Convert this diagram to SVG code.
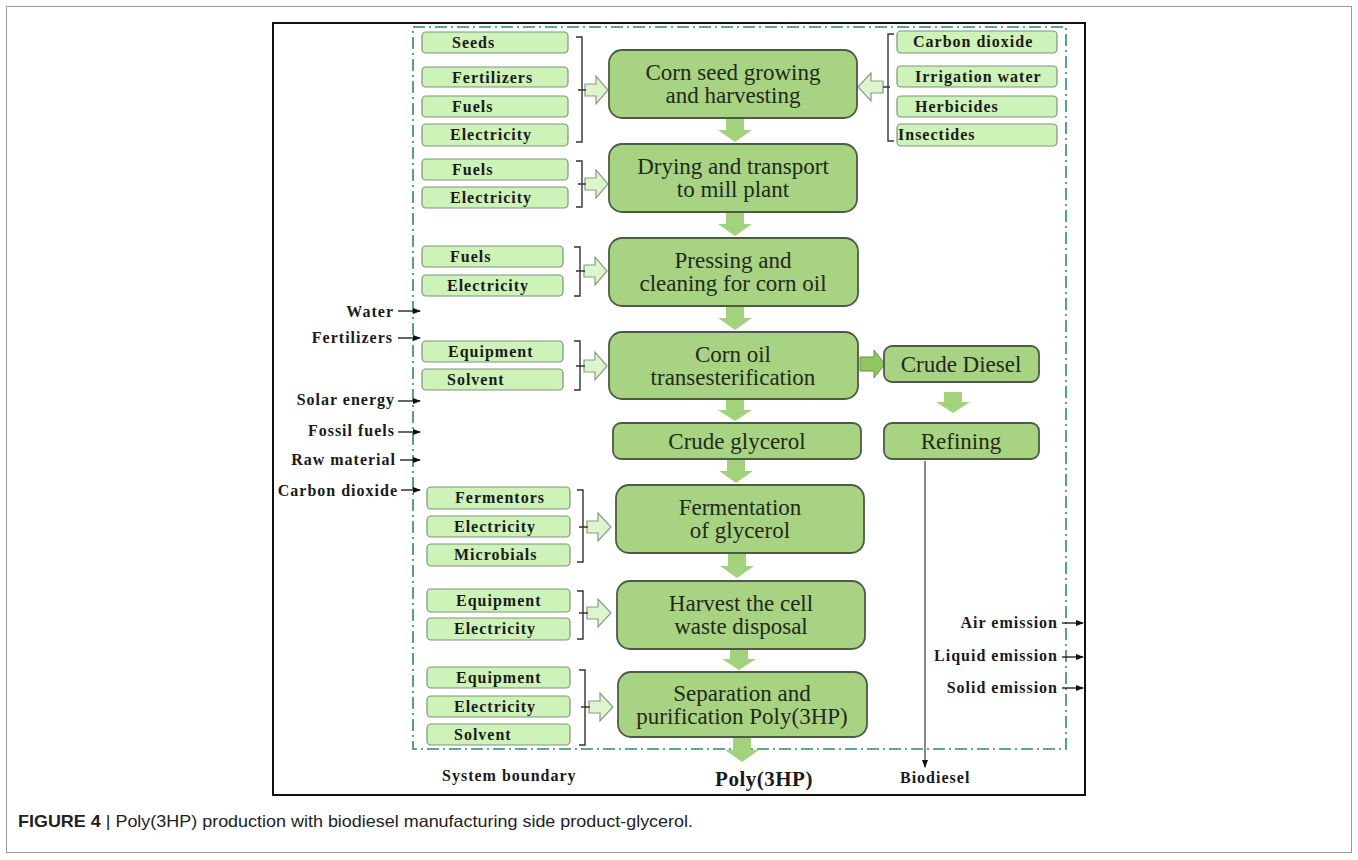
<svg xmlns="http://www.w3.org/2000/svg" width="1358" height="860" viewBox="0 0 1358 860">
<style>
.inbox{fill:#cdf3b8;stroke:#7d937b;stroke-width:1.2}
.main{fill:#a8d383;stroke:#4d5a44;stroke-width:1.8}
.lbl{font-family:"Liberation Serif",serif;font-weight:bold;font-size:16px;letter-spacing:1px;fill:#1a1a1a}
.mt{font-family:"Liberation Serif",serif;font-size:23px;fill:#1f2a1a;text-anchor:middle}
.hol{fill:#dcf5cc;stroke:#8a9a88;stroke-width:1.2}
.down{fill:#a3d27c}
.brk{fill:none;stroke:#333;stroke-width:1.4}
.blk{stroke:#111;stroke-width:1.3;fill:none}
.cap{font-family:"Liberation Sans",Arial,sans-serif;font-size:16.5px;fill:#222}
</style>
<defs>
<marker id="ah" markerWidth="8" markerHeight="8" refX="7" refY="4" orient="auto" markerUnits="userSpaceOnUse">
<path d="M0,1 L8,4 L0,7 Z" fill="#111"/>
</marker>
</defs>
<rect x="6.5" y="6.5" width="1345" height="846" fill="#fff" stroke="#9a9a9a" stroke-width="1"/>
<rect x="273" y="23" width="812" height="772" fill="#fff" stroke="#111" stroke-width="2"/>
<rect id="boundary" x="413" y="27" width="653" height="722" fill="none" stroke="#2e8a6c" stroke-width="1.6" stroke-dasharray="12 4 2 4"/>

<g id="connectors">
<path class="hol" d="M585,84 H596 V76 L608,90 L596,104 V96 H585 Z"/>
<path class="hol" d="M883,81 H871 V73 L858,87 L871,101 V93 H883 Z"/>
<path class="hol" d="M585,178 H596 V170 L608,184 L596,198 V190 H585 Z"/>
<path class="hol" d="M584,265 H595 V257 L607,271 L595,285 V277 H584 Z"/>
<path class="hol" d="M584,360 H595 V352 L607,366 L595,380 V372 H584 Z"/>
<path class="hol" d="M587,521 H598 V513 L611,527 L598,541 V533 H587 Z"/>
<path class="hol" d="M587,607 H598 V599 L611,613 L598,627 V619 H587 Z"/>
<path class="hol" d="M589,701 H600 V693 L613,707 L600,721 V713 H589 Z"/>
<path class="down" d="M726,118 H744 V130 H752 L735,142 L718,130 H726 Z"/>
<path class="down" d="M726,212 H744 V224 H752 L735,236 L718,224 H726 Z"/>
<path class="down" d="M726,306 H744 V318 H752 L735,330 L718,318 H726 Z"/>
<path class="down" d="M726,399 H744 V410 H752 L735,421 L718,410 H726 Z"/>
<path class="down" d="M727,459 H745 V471 H753 L736,483 L719,471 H727 Z"/>
<path class="down" d="M728,553 H746 V566 H754 L737,578 L720,566 H728 Z"/>
<path class="down" d="M730,649 H748 V659 H756 L739,670 L722,659 H730 Z"/>
<path class="down" d="M733,737 H751 V750 H759 L742,762 L725,750 H733 Z"/>
<path class="down" d="M944,392 H962 V402 H970 L953,413 L936,402 H944 Z"/>
<path d="M860,357 H874 V350 L885,364 L874,378 V371 H860 Z" fill="#8fc65e" stroke="#6b8f55" stroke-width="1"/>
<line x1="925" y1="461" x2="925" y2="767" stroke="#555" stroke-width="1.4" marker-end="url(#ah)"/>
<line class="blk" x1="398" y1="311" x2="420" y2="311" marker-end="url(#ah)"/>
<line class="blk" x1="398" y1="338" x2="420" y2="338" marker-end="url(#ah)"/>
<line class="blk" x1="398" y1="401" x2="420" y2="401" marker-end="url(#ah)"/>
<line class="blk" x1="398" y1="432" x2="420" y2="432" marker-end="url(#ah)"/>
<line class="blk" x1="400" y1="460" x2="420" y2="460" marker-end="url(#ah)"/>
<line class="blk" x1="401" y1="490" x2="420" y2="490" marker-end="url(#ah)"/>
<line class="blk" x1="1062" y1="623" x2="1083" y2="623" marker-end="url(#ah)"/>
<line class="blk" x1="1062" y1="657" x2="1083" y2="657" marker-end="url(#ah)"/>
<line class="blk" x1="1062" y1="688" x2="1083" y2="688" marker-end="url(#ah)"/>
<path class="brk" d="M576,37 H582 V142 H576 M578,90 H586"/>
<path class="brk" d="M894,34 H888 V141 H894 M883,87 H890"/>
<path class="brk" d="M576,161 H582 V207 H576 M578,184 H586"/>
<path class="brk" d="M574,247 H580 V296 H574 M576,271 H585"/>
<path class="brk" d="M574,341 H580 V390 H574 M576,366 H585"/>
<path class="brk" d="M577,490 H583 V562 H577 M579,527 H588"/>
<path class="brk" d="M577,591 H583 V639 H577 M579,613 H588"/>
<path class="brk" d="M579,670 H585 V745 H579 M581,707 H590"/>
</g>

<g id="in-seeds"><rect class="inbox" x="422" y="32" width="146" height="21" rx="4"/><text class="lbl" x="452" y="48">Seeds</text></g>
<g id="in-fert"><rect class="inbox" x="422" y="67" width="146" height="20" rx="4"/><text class="lbl" x="452" y="83">Fertilizers</text></g>
<g id="in-fuels1"><rect class="inbox" x="422" y="96" width="146" height="21" rx="4"/><text class="lbl" x="452" y="112">Fuels</text></g>
<g id="in-elec1"><rect class="inbox" x="422" y="124" width="146" height="22" rx="4"/><text class="lbl" x="450" y="140">Electricity</text></g>

<g id="in-co2"><rect class="inbox" x="897" y="31" width="160" height="22" rx="4"/><text class="lbl" x="913" y="47">Carbon dioxide</text></g>
<g id="in-irr"><rect class="inbox" x="897" y="66" width="160" height="21" rx="4"/><text class="lbl" x="915" y="82">Irrigation water</text></g>
<g id="in-herb"><rect class="inbox" x="897" y="96" width="160" height="21" rx="4"/><text class="lbl" x="915" y="112">Herbicides</text></g>
<g id="in-insect"><rect class="inbox" x="897" y="124" width="160" height="22" rx="4"/><text class="lbl" x="898" y="140">Insectides</text></g>

<g id="n-corn"><rect class="main" x="609" y="50" width="248" height="68" rx="13"/><text class="mt" x="733" y="80">Corn seed growing</text><text class="mt" x="733" y="103">and harvesting</text></g>

<g id="in-fuels2"><rect class="inbox" x="422" y="159" width="146" height="21" rx="4"/><text class="lbl" x="452" y="175">Fuels</text></g>
<g id="in-elec2"><rect class="inbox" x="422" y="187" width="146" height="21" rx="4"/><text class="lbl" x="450" y="203">Electricity</text></g>
<g id="n-dry"><rect class="main" x="609" y="144" width="248" height="68" rx="13"/><text class="mt" x="733" y="174">Drying and transport</text><text class="mt" x="733" y="197">to mill plant</text></g>

<g id="in-fuels3"><rect class="inbox" x="422" y="246" width="141" height="21" rx="4"/><text class="lbl" x="450" y="262">Fuels</text></g>
<g id="in-elec3"><rect class="inbox" x="422" y="275" width="141" height="21" rx="4"/><text class="lbl" x="447" y="291">Electricity</text></g>
<g id="n-press"><rect class="main" x="609" y="238" width="249" height="68" rx="13"/><text class="mt" x="733" y="268">Pressing and</text><text class="mt" x="733" y="291">cleaning for corn oil</text></g>

<g id="in-equip4"><rect class="inbox" x="422" y="341" width="141" height="21" rx="4"/><text class="lbl" x="448" y="357">Equipment</text></g>
<g id="in-solv4"><rect class="inbox" x="422" y="369" width="141" height="21" rx="4"/><text class="lbl" x="447" y="385">Solvent</text></g>
<g id="n-trans"><rect class="main" x="609" y="332" width="249" height="67" rx="13"/><text class="mt" x="733" y="362">Corn oil</text><text class="mt" x="733" y="385">transesterification</text></g>

<g id="n-crudediesel"><rect class="main" x="884" y="346" width="155" height="36" rx="8"/><text class="mt" x="961" y="372">Crude Diesel</text></g>
<g id="n-glycerol"><rect class="main" x="613" y="423" width="248" height="36" rx="8"/><text class="mt" x="737" y="449">Crude glycerol</text></g>
<g id="n-refining"><rect class="main" x="884" y="423" width="155" height="36" rx="8"/><text class="mt" x="961" y="449">Refining</text></g>

<g id="in-ferm"><rect class="inbox" x="427" y="487" width="143" height="22" rx="4"/><text class="lbl" x="455" y="503">Fermentors</text></g>
<g id="in-elec5"><rect class="inbox" x="427" y="516" width="143" height="21" rx="4"/><text class="lbl" x="454" y="532">Electricity</text></g>
<g id="in-micro"><rect class="inbox" x="427" y="544" width="143" height="22" rx="4"/><text class="lbl" x="454" y="560">Microbials</text></g>
<g id="n-ferment"><rect class="main" x="616" y="485" width="248" height="68" rx="13"/><text class="mt" x="740" y="515">Fermentation</text><text class="mt" x="740" y="538">of glycerol</text></g>

<g id="in-equip6"><rect class="inbox" x="427" y="589" width="143" height="23" rx="4"/><text class="lbl" x="456" y="606">Equipment</text></g>
<g id="in-elec6"><rect class="inbox" x="427" y="618" width="143" height="22" rx="4"/><text class="lbl" x="454" y="634">Electricity</text></g>
<g id="n-harvest"><rect class="main" x="617" y="581" width="248" height="68" rx="13"/><text class="mt" x="741" y="611">Harvest the cell</text><text class="mt" x="741" y="634">waste disposal</text></g>

<g id="in-equip7"><rect class="inbox" x="427" y="667" width="143" height="21" rx="4"/><text class="lbl" x="456" y="683">Equipment</text></g>
<g id="in-elec7"><rect class="inbox" x="427" y="696" width="143" height="21" rx="4"/><text class="lbl" x="454" y="712">Electricity</text></g>
<g id="in-solv7"><rect class="inbox" x="427" y="724" width="143" height="21" rx="4"/><text class="lbl" x="454" y="740">Solvent</text></g>
<g id="n-sep"><rect class="main" x="618" y="672" width="249" height="65" rx="13"/><text class="mt" x="742" y="701">Separation and</text><text class="mt" x="742" y="724">purification Poly(3HP)</text></g>

<g id="left-labels" class="lbl" text-anchor="end">
<text x="394" y="317">Water</text>
<text x="393" y="343">Fertilizers</text>
<text x="395" y="405">Solar energy</text>
<text x="395" y="436">Fossil fuels</text>
<text x="396" y="465">Raw material</text>
<text x="398" y="496">Carbon dioxide</text>
</g>
<g id="right-labels" class="lbl" text-anchor="end">
<text x="1058" y="628">Air emission</text>
<text x="1058" y="661">Liquid emission</text>
<text x="1058" y="693">Solid emission</text>
</g>
<g id="outputs">
<text class="lbl" x="442" y="781">System boundary</text>
<text class="lbl" x="764" y="786" text-anchor="middle" style="font-size:21px;letter-spacing:0.5px">Poly(3HP)</text>
<text class="lbl" x="900" y="783">Biodiesel</text>
</g>
<text class="cap" x="18" y="827" textLength="675" lengthAdjust="spacingAndGlyphs"><tspan font-weight="bold">FIGURE 4</tspan> | Poly(3HP) production with biodiesel manufacturing side product-glycerol.</text>
</svg>
